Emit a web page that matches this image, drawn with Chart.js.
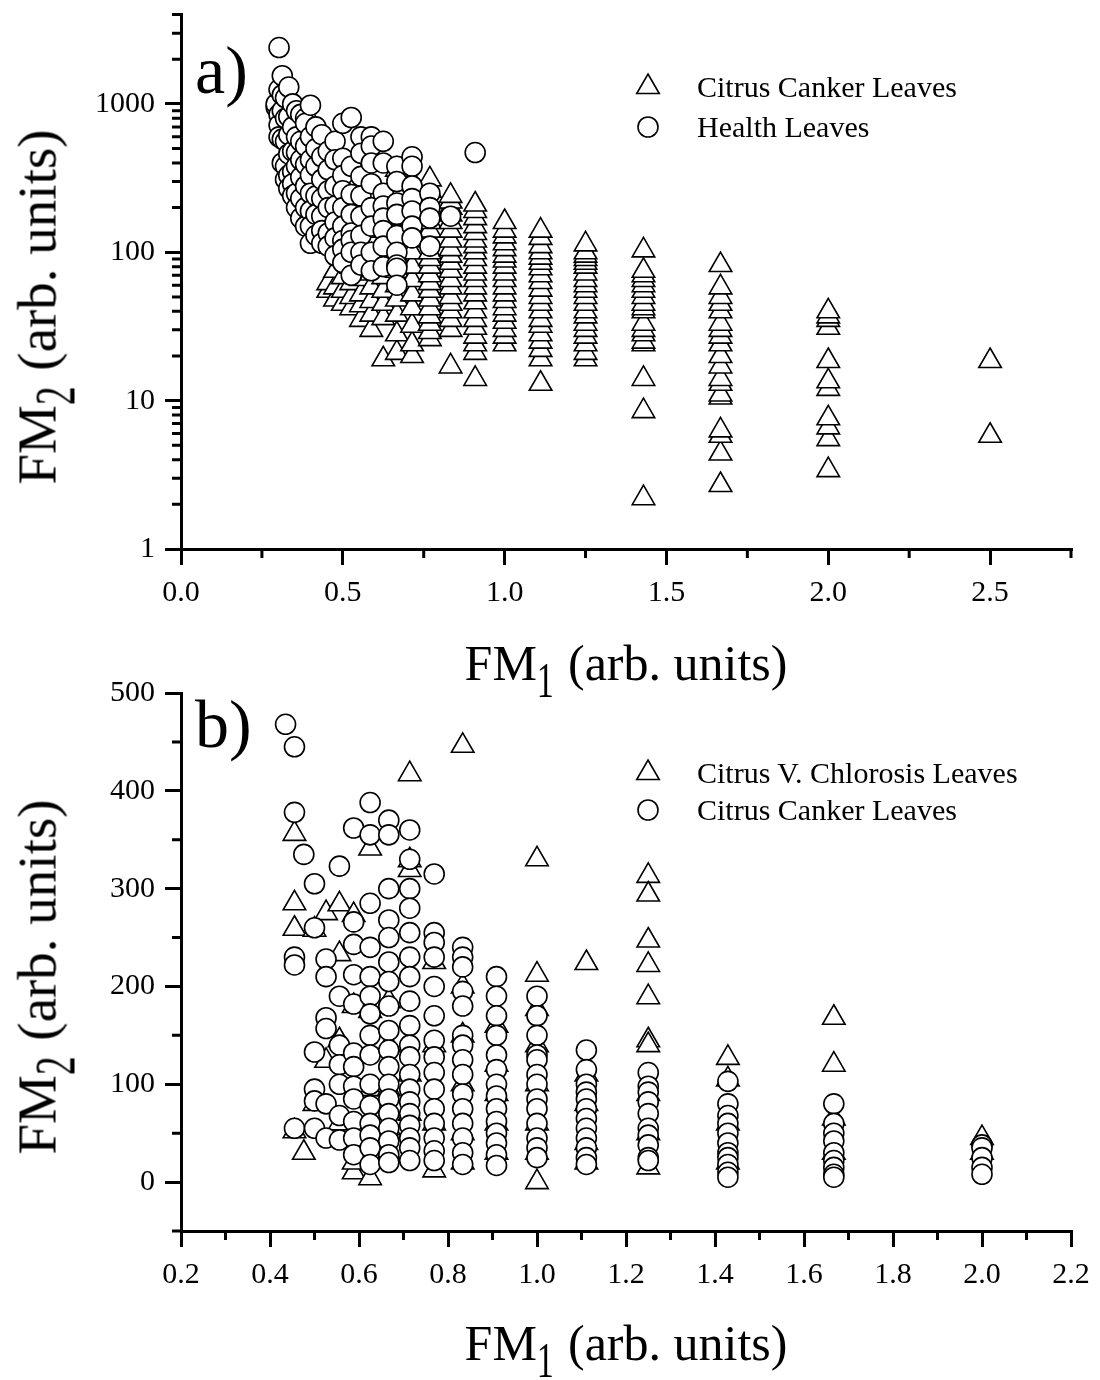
<!DOCTYPE html>
<html>
<head>
<meta charset="utf-8">
<script src="https://cdn.jsdelivr.net/npm/chart.js@4.4.0/dist/chart.umd.min.js"></script>
<style>
  body { margin: 0; background: #fff; width: 1100px; height: 1380px; position: relative; overflow: hidden;
         font-family: "Liberation Serif", "Times New Roman", serif; color: #000; }
  canvas { position: absolute; left: 0; }
  #cTop { top: 0; }
  #cBot { top: 660px; }
  .txt { position: absolute; white-space: nowrap; line-height: 1; }
  .sub { display: inline-block; font-size: 0.68em; transform: scaleY(1.5); transform-origin: bottom;
         position: relative; top: 0.6em; margin-right: 0.05em; }
  .xtitle { font-size: 50px; transform: translateX(-50%); left: 626px; }
  .ytitle { font-size: 55px; left: 37px; transform: translate(-50%, -50%) rotate(-90deg); }
  .panel { font-size: 68px; left: 195px; }
  .leg { font-size: 30px; left: 697px; }
</style>
</head>
<body>
<canvas id="cTop" width="1100" height="660"></canvas>
<canvas id="cBot" width="1100" height="720"></canvas>

<div class="txt panel" style="top:36px">a)</div>
<div class="txt panel" style="top:690px">b)</div>

<div class="txt leg" style="top:72px">Citrus Canker Leaves</div>
<div class="txt leg" style="top:112px">Health Leaves</div>
<div class="txt leg" style="top:758px">Citrus V. Chlorosis Leaves</div>
<div class="txt leg" style="top:795px">Citrus Canker Leaves</div>

<div class="txt xtitle" style="top:638px">FM<span class="sub">1</span> (arb. units)</div>
<div class="txt xtitle" style="top:1318px">FM<span class="sub">1</span> (arb. units)</div>
<div class="txt ytitle" style="top:307px">FM<span class="sub">2</span> (arb. units)</div>
<div class="txt ytitle" style="top:977px">FM<span class="sub">2</span> (arb. units)</div>

<script>
// ---- panel a) : Citrus Canker vs Health leaves (log y) ----
const aCankerX = [0.455, 0.476, 0.5, 0.526, 0.556, 0.588, 0.625, 0.667, 0.714, 0.769,
                  0.833, 0.909, 1.0, 1.111, 1.25, 1.429, 1.667, 2.0, 2.5];
const aCankerY = [
  [55, 62],
  [48, 58, 75],
  [45, 55, 68, 90, 130],
  [42, 50, 62, 80, 110, 170],
  [35, 44, 52, 66, 85, 120, 190],
  [30, 38, 47, 58, 72, 95, 140, 220],
  [19, 36, 45, 55, 68, 85, 110, 150, 230],
  [21, 28, 38, 48, 60, 75, 95, 125, 170, 250, 360],
  [20, 24, 32, 42, 52, 65, 80, 100, 130, 170, 220, 300],
  [26, 29, 33, 37, 42, 48, 55, 62, 70, 80, 90, 100, 120, 140, 160, 190, 220, 260, 310],
  [17, 30, 35, 40, 45, 50, 58, 65, 75, 85, 95, 105, 120, 140, 160, 180, 200, 220, 240],
  [14, 21, 24, 27, 31, 35, 40, 46, 52, 58, 65, 72, 80, 90, 100, 110, 120, 135, 150, 170, 190, 210],
  [24, 27, 30, 34, 38, 42, 47, 52, 58, 65, 72, 80, 88, 95, 105, 115, 128, 140, 160],
  [13, 19, 22, 25, 28, 32, 35, 40, 45, 50, 56, 63, 70, 78, 85, 92, 100, 110, 125, 140],
  [19, 21, 24, 27, 30, 33, 37, 40, 45, 50, 55, 60, 65, 72, 80, 85, 90, 95, 100, 113],
  [2.2, 8.5, 14, 24, 25, 28, 30, 33, 40, 42, 45, 50, 55, 60, 65, 70, 75, 103],
  [2.7, 4.4, 5.8, 6.3, 10.5, 11, 13, 14, 17, 20, 24, 27, 30, 33, 40, 45, 50, 58, 82],
  [3.4, 5.5, 6.6, 7.6, 12, 13.5, 18.5, 31, 35, 37, 40],
  [5.8, 18.5]
];
const aHealthX = [0.294, 0.303, 0.313, 0.323, 0.333, 0.345, 0.357, 0.37, 0.385, 0.4, 0.417, 0.435,
                  0.455, 0.476, 0.5, 0.526, 0.556, 0.588, 0.625, 0.667, 0.714, 0.769, 0.833, 0.909];
const aHealthY = [
  [950, 1000],
  [2400, 1250, 850, 720, 600],
  [1550, 1150, 900, 580, 400],
  [1100, 800, 560, 380, 310],
  [1300, 820, 620, 460, 330, 270],
  [1000, 700, 480, 350, 290, 240],
  [900, 600, 470, 380, 250, 200],
  [850, 560, 420, 320, 230, 170],
  [800, 740, 520, 390, 280, 200, 150],
  [980, 600, 420, 330, 250, 190, 150, 115],
  [700, 500, 380, 240, 180, 130],
  [620, 440, 310, 230, 175, 140, 115],
  [480, 360, 260, 200, 135, 110],
  [560, 420, 280, 205, 160, 125, 95],
  [740, 430, 330, 260, 200, 150, 120, 105, 85],
  [810, 380, 245, 180, 135, 120, 100, 70],
  [600, 465, 325, 240, 175, 130, 100, 82],
  [600, 520, 400, 290, 200, 150, 100, 75],
  [560, 400, 250, 205, 170, 140, 110, 80],
  [380, 300, 215, 180, 130, 100, 82, 78, 60],
  [440, 380, 280, 230, 190, 150, 125],
  [250, 200, 170, 110],
  [175],
  [470]
];
const aXMajor = [0, 0.5, 1.0, 1.5, 2.0, 2.5];
const aXMinor = [0.25, 0.75, 1.25, 1.75, 2.25, 2.75];
const aYMajor = [1, 10, 100, 1000];
const aYMinor = [2, 3, 4, 5, 6, 7, 8, 9, 20, 30, 40, 50, 60, 70, 80, 90,
                 200, 300, 400, 500, 600, 700, 800, 900, 2000, 3000, 4000];

// ---- panel b) : CVC vs Citrus Canker leaves (linear y) ----
const bCvcX = [0.455, 0.476, 0.5, 0.526, 0.556, 0.588, 0.625, 0.667, 0.714, 0.769,
               0.833, 0.909, 1.0, 1.111, 1.25, 1.429, 1.667, 2.0];
const bCvcY = [
  [356, 285, 259, 52],
  [30],
  [80, 258],
  [124, 275],
  [284, 233, 145, 60],
  [10, 20, 180, 273],
  [341, 175, 95, 4],
  [185, 140, 95, 55, 30],
  [417, 329, 319, 110, 70],
  [12, 60, 140, 225],
  [446, 200, 150, 100, 50, 20],
  [30, 60, 90, 120, 160],
  [330, 212, 177, 140, 100, 60, 30, 0],
  [224, 110, 80, 40, 20],
  [313, 294, 247, 222, 189, 145, 140, 90, 50, 15],
  [127, 105, 60, 20],
  [168, 120, 65, 30],
  [45, 30]
];
const bCankerX = [0.435, 0.455, 0.476, 0.5, 0.526, 0.556, 0.588, 0.625, 0.667, 0.714, 0.769,
                  0.833, 0.909, 1.0, 1.111, 1.25, 1.429, 1.667, 2.0];
const bCankerY = [
  [468],
  [445, 378, 230, 222, 55],
  [335],
  [305, 260, 133, 95, 83, 55],
  [228, 210, 168, 157, 80, 45],
  [323, 190, 140, 120, 100, 68, 43],
  [362, 266, 243, 212, 182, 132, 118, 98, 85, 62, 45, 28],
  [388, 355, 285, 240, 210, 190, 172, 150, 130, 100, 78, 60, 48, 35, 18],
  [370, 355, 300, 268, 250, 225, 205, 180, 155, 135, 118, 100, 85, 70, 55, 42, 28, 20],
  [360, 330, 300, 280, 255, 230, 210, 185, 160, 140, 128, 110, 95, 82, 70, 58, 45, 35, 22],
  [315, 255, 245, 230, 200, 170, 145, 128, 112, 95, 75, 60, 45, 32, 22],
  [240, 230, 220, 195, 180, 150, 140, 125, 110, 90, 75, 60, 45, 30, 18],
  [210, 190, 170, 150, 130, 115, 100, 88, 75, 62, 50, 40, 28, 17],
  [190, 170, 150, 130, 125, 110, 100, 85, 75, 60, 45, 35, 25],
  [135, 115, 100, 92, 85, 75, 65, 55, 45, 35, 25, 18],
  [112, 98, 92, 82, 70, 55, 48, 38, 25, 22],
  [103, 80, 68, 60, 50, 40, 30, 25, 18, 10, 5],
  [80, 60, 50, 42, 30, 22, 15, 8, 5],
  [38, 35, 25, 15, 8]
];
const bXMajor = [0.2, 0.4, 0.6, 0.8, 1.0, 1.2, 1.4, 1.6, 1.8, 2.0, 2.2];
const bXMinor = [0.3, 0.5, 0.7, 0.9, 1.1, 1.3, 1.5, 1.7, 1.9, 2.1];
const bYMajor = [0, 100, 200, 300, 400, 500];
const bYMinor = [-50, 50, 150, 250, 350, 450];

// flatten column lists into {x, y} points
function toPoints(cols, vals) {
  const pts = [];
  cols.forEach((x, i) => vals[i].forEach(y => pts.push({ x: x, y: y })));
  return pts;
}

const TRI = { pointStyle: 'triangle', radius: 13, borderWidth: 1.6 };
const CIR = { pointStyle: 'circle', radius: 10, borderWidth: 1.6 };

function markerSet(label, pts, m, order) {
  return {
    label: label, data: pts, showLine: false, order: order,
    pointStyle: m.pointStyle, pointRadius: m.radius, pointBorderWidth: m.borderWidth,
    pointBorderColor: '#000', pointBackgroundColor: '#fff',
    borderColor: '#000', backgroundColor: '#fff'
  };
}

// short outward ticks between the labelled ones
const minorTicks = {
  id: 'minorTicks',
  afterDraw(chart, args, opts) {
    const ctx = chart.ctx, xs = chart.scales.x, ys = chart.scales.y;
    ctx.save();
    ctx.strokeStyle = '#000';
    ctx.lineWidth = 3;
    ctx.beginPath();
    opts.x.forEach(v => {
      const p = xs.getPixelForValue(v);
      ctx.moveTo(p, xs.top);
      ctx.lineTo(p, xs.top + 9);
    });
    opts.y.forEach(v => {
      const p = ys.getPixelForValue(v);
      ctx.moveTo(ys.right, p);
      ctx.lineTo(ys.right - 9, p);
    });
    ctx.stroke();
    ctx.restore();
  }
};

// legend symbols inside the plot (text is html)
const legendMarks = {
  id: 'legendMarks',
  afterDraw(chart, args, opts) {
    const ctx = chart.ctx;
    ctx.save();
    ctx.strokeStyle = '#000';
    ctx.fillStyle = '#fff';
    opts.items.forEach(it => {
      ctx.lineWidth = it.m.borderWidth;
      Chart.helpers.drawPoint(ctx, { pointStyle: it.m.pointStyle, radius: it.m.radius, rotation: 0,
                                     borderWidth: it.m.borderWidth }, it.x, it.y);
    });
    ctx.restore();
  }
};

const serif = { family: '"Liberation Serif", "Times New Roman", serif', size: 30 };

function axisCommon(majors, fmt) {
  return {
    border: { display: true, color: '#000', width: 3 },
    grid: { drawOnChartArea: false, drawTicks: true, tickLength: 16, tickWidth: 3, tickColor: '#000', lineWidth: 3 },
    afterBuildTicks: s => { s.ticks = majors.map(v => ({ value: v })); },
    ticks: { color: '#000', font: serif, padding: 10, maxRotation: 0, autoSkip: false, callback: fmt }
  };
}

function makeChart(id, cfg) {
  const xAxis = Object.assign(axisCommon(cfg.xMajor, v => v.toFixed(1)), {
    type: 'linear', position: 'bottom', min: cfg.xMin, max: cfg.xMax,
    afterFit: s => { s.height = cfg.xBox; s.paddingLeft = 0; s.paddingRight = 0; }
  });
  const yAxis = Object.assign(axisCommon(cfg.yMajor, v => String(v)), {
    type: cfg.yType, position: 'left', min: cfg.yMin, max: cfg.yMax,
    afterFit: s => { s.width = 181; s.paddingTop = 0; s.paddingBottom = 0; }
  });
  return new Chart(document.getElementById(id), {
    type: 'scatter',
    data: { datasets: cfg.datasets },
    options: {
      responsive: false,
      animation: false,
      events: [],
      layout: { padding: { left: 0, right: 29, top: cfg.padTop, bottom: 0 } },
      scales: { x: xAxis, y: yAxis },
      plugins: {
        legend: { display: false },
        tooltip: { enabled: false },
        minorTicks: { x: cfg.xMinor, y: cfg.yMinor },
        legendMarks: { items: cfg.legend }
      }
    },
    plugins: [minorTicks, legendMarks]
  });
}

makeChart('cTop', {
  datasets: [
    markerSet('Citrus Canker Leaves', toPoints(aCankerX, aCankerY), TRI, 2),
    markerSet('Health Leaves', toPoints(aHealthX, aHealthY), CIR, 1)
  ],
  xMin: 0, xMax: 2.75, xMajor: aXMajor, xMinor: aXMinor, xBox: 111,
  yType: 'logarithmic', yMin: 1, yMax: 4000, yMajor: aYMajor, yMinor: aYMinor,
  padTop: 10,
  legend: [{ m: TRI, x: 648, y: 87 }, { m: CIR, x: 648, y: 127 }]
});

makeChart('cBot', {
  datasets: [
    markerSet('Citrus V. Chlorosis Leaves', toPoints(bCvcX, bCvcY), TRI, 2),
    markerSet('Citrus Canker Leaves', toPoints(bCankerX, bCankerY), CIR, 1)
  ],
  xMin: 0.2, xMax: 2.2, xMajor: bXMajor, xMinor: bXMinor, xBox: 149,
  yType: 'linear', yMin: -50, yMax: 500, yMajor: bYMajor, yMinor: bYMinor,
  padTop: 33,
  legend: [{ m: TRI, x: 648, y: 113 }, { m: CIR, x: 648, y: 150 }]
});
</script>
</body>
</html>
